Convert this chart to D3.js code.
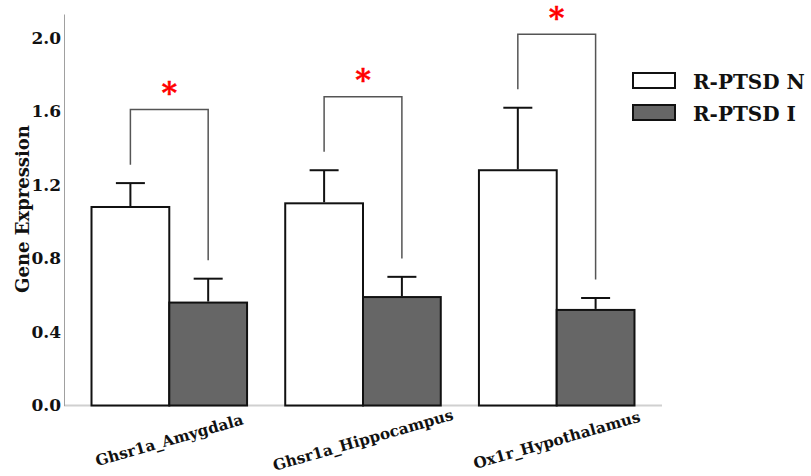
<!DOCTYPE html>
<html>
<head>
<meta charset="utf-8">
<script src="https://cdn.jsdelivr.net/npm/d3@7"></script>
<style>
  body { margin: 0; background: #fff; }
  svg { display: block; }
  text { font-family: "DejaVu Serif", serif; font-weight: bold; }
</style>
</head>
<body>
<div id="chart"></div>
<script>
const categories = ["Ghsr1a_Amygdala", "Ghsr1a_Hippocampus", "Ox1r_Hypothalamus"]
const seriesNames = ["R-PTSD N", "R-PTSD I"]
const meanN = [1.08, 1.10, 1.28]
const errN = [0.13, 0.18, 0.34]
const meanI = [0.56, 0.59, 0.52]
const errI = [0.13, 0.11, 0.065]
const yTicks = [0, 0.4, 0.8, 1.2, 1.6, 2.0]
const sigLabels = ["*", "*", "*"]

const width = 811, height = 476
const colors = { "R-PTSD N": "#ffffff", "R-PTSD I": "#666666" }

const svg = d3.select('#chart').append('svg')
    .attr('width', width)
    .attr('height', height)

const y = d3.scaleLinear().domain([0, 2.13]).range([405.5, 14])
const x = d3.scaleBand().domain(categories).range([64, 662])
    .paddingInner(0.197).paddingOuter(0.142)
const xs = d3.scaleBand().domain(seriesNames).range([0, x.bandwidth()])

const rows = categories.map((c, i) => ({
    cat: c,
    vals: [
        { s: seriesNames[0], v: meanN[i], e: errN[i] },
        { s: seriesNames[1], v: meanI[i], e: errI[i] }
    ],
    sig: sigLabels[i]
}))

// axes
svg.append('line')
    .attr('x1', x.range()[0]).attr('x2', x.range()[1])
    .attr('y1', y(0)).attr('y2', y(0))
    .attr('stroke', '#d0d0d0').attr('stroke-width', 2)

const yAxis = svg.append('g')
    .attr('transform', 'translate(64,0)')
    .call(d3.axisLeft(y).tickValues(yTicks).tickFormat(d3.format('.1f')).tickSize(0).tickPadding(3))
yAxis.select('.domain').attr('stroke', '#a0a0a0').attr('stroke-width', 1)
yAxis.selectAll('text')
    .attr('font-family', 'DejaVu Serif').attr('font-weight', 'bold')
    .attr('font-size', 17).attr('fill', '#111')

svg.append('text')
    .attr('transform', 'translate(29,209) rotate(-90)')
    .attr('text-anchor', 'middle')
    .attr('font-size', 18)
    .attr('fill', '#111')
    .text('Gene Expression')

// bars
const groups = svg.selectAll('g.grp')
    .data(rows)
    .join('g')
    .attr('class', 'grp')
    .attr('transform', d => `translate(${x(d.cat)},0)`)

groups.selectAll('rect')
    .data(d => d.vals)
    .join('rect')
    .attr('x', d => xs(d.s))
    .attr('y', d => y(d.v))
    .attr('width', xs.bandwidth())
    .attr('height', d => y(0) - y(d.v))
    .attr('fill', d => colors[d.s])
    .attr('stroke', '#111')
    .attr('stroke-width', 2)

// error bars (upper only)
const capW = 29
groups.selectAll('line.err')
    .data(d => d.vals)
    .join('line')
    .attr('class', 'err')
    .attr('x1', d => xs(d.s) + xs.bandwidth() / 2)
    .attr('x2', d => xs(d.s) + xs.bandwidth() / 2)
    .attr('y1', d => y(d.v) - 1)
    .attr('y2', d => y(d.v + d.e))
    .attr('stroke', '#111').attr('stroke-width', 2)
groups.selectAll('line.cap')
    .data(d => d.vals)
    .join('line')
    .attr('class', 'cap')
    .attr('x1', d => xs(d.s) + xs.bandwidth() / 2 - capW / 2)
    .attr('x2', d => xs(d.s) + xs.bandwidth() / 2 + capW / 2)
    .attr('y1', d => y(d.v + d.e))
    .attr('y2', d => y(d.v + d.e))
    .attr('stroke', '#111').attr('stroke-width', 2)

// significance brackets
const gap = 0.1, rise = 0.4
const bracketTop = d => y(Math.max(d.vals[0].v + d.vals[0].e, d.vals[1].v + d.vals[1].e) + rise)
groups.append('path')
    .attr('fill', 'none')
    .attr('stroke', '#555')
    .attr('stroke-width', 1.5)
    .attr('d', d => {
        const a = d.vals[0], b = d.vals[1]
        const xa = xs(a.s) + xs.bandwidth() / 2
        const xb = xs(b.s) + xs.bandwidth() / 2
        return `M${xa},${y(a.v + a.e + gap)}V${bracketTop(d)}H${xb}V${y(b.v + b.e + gap)}`
    })
groups.append('text')
    .attr('x', x.bandwidth() / 2)
    .attr('y', d => bracketTop(d) - 6.5)
    .attr('text-anchor', 'middle')
    .attr('font-family', 'DejaVu Sans')
    .attr('font-weight', 'normal')
    .attr('font-size', 30)
    .attr('fill', '#ff0000')
    .attr('stroke', '#ff0000')
    .attr('stroke-width', 0.4)
    .text(d => d.sig)

// category labels
groups.append('text')
    .attr('transform', `translate(${x.bandwidth() / 2},440) rotate(-16)`)
    .attr('text-anchor', 'middle')
    .attr('dy', '0.35em')
    .attr('font-size', 15.3)
    .attr('fill', '#111')
    .text(d => d.cat)

// legend
const legend = svg.append('g').attr('transform', 'translate(633,73)')
const li = legend.selectAll('g')
    .data(seriesNames)
    .join('g')
    .attr('transform', (d, i) => `translate(0,${i * 32})`)
li.append('rect')
    .attr('width', 42).attr('height', 15)
    .attr('fill', d => colors[d])
    .attr('stroke', '#111').attr('stroke-width', 2)
li.append('text')
    .attr('x', 60).attr('y', 15.5)
    .attr('font-size', 20)
    .attr('fill', '#111')
    .text(d => d)
</script>
</body>
</html>
